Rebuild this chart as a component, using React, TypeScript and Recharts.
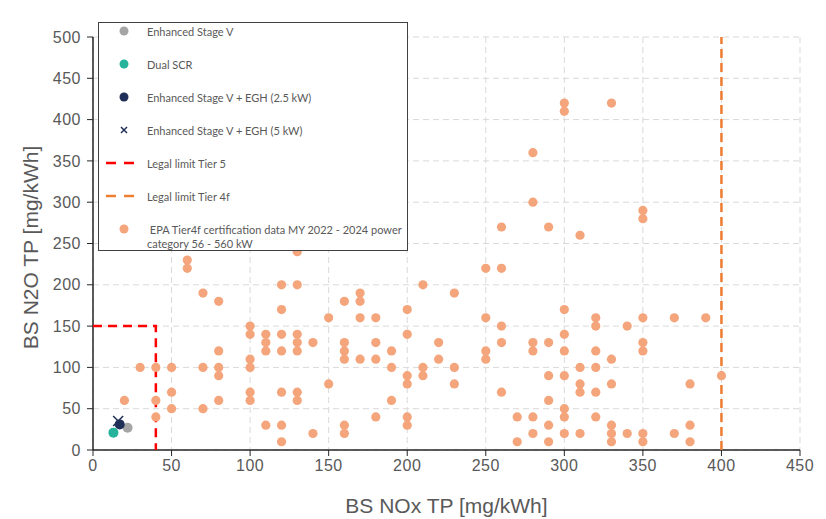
import React from 'react';
import { ScatterChart, Scatter, XAxis, YAxis, CartesianGrid, Label } from 'recharts';

// ticks
const xTicks = [0, 50, 100, 150, 200, 250, 300, 350, 400, 450];
const yTicks = [0, 50, 100, 150, 200, 250, 300, 350, 400, 450, 500];

// measured engines
const enhancedStageV = [{ x: 22, y: 27 }];
const dualScr = [{ x: 13, y: 21 }];
const enhancedEgh25 = [{ x: 17, y: 31 }];
const enhancedEgh5 = [{ x: 16, y: 35 }];

// legal limits
const tier5Limit = [
  { x: 0, y: 150 },
  { x: 40, y: 150 },
  { x: 40, y: 0 },
];
const tier4fLimit = [
  { x: 400, y: 0 },
  { x: 400, y: 500 },
];

// EPA Tier4f certification data [NOx, N2O]
const epaPoints: [number, number][] = [
  [20, 60], [30, 100], [40, 100], [40, 60], [40, 40],
  [50, 100], [50, 70], [50, 50],
  [60, 230], [60, 220],
  [70, 190], [70, 100], [70, 50],
  [80, 180], [80, 120], [80, 100], [80, 90], [80, 60],
  [100, 150], [100, 140], [100, 110], [100, 100], [100, 70], [100, 60],
  [110, 140], [110, 130], [110, 120], [110, 30],
  [120, 200], [120, 170], [120, 140], [120, 120], [120, 70], [120, 30], [120, 10],
  [130, 240], [130, 200], [130, 140], [130, 130], [130, 120], [130, 70], [130, 60],
  [140, 130], [140, 20],
  [150, 160], [150, 80],
  [160, 180], [160, 130], [160, 120], [160, 110], [160, 30], [160, 20],
  [170, 190], [170, 180], [170, 160], [170, 110],
  [180, 160], [180, 130], [180, 110], [180, 40],
  [190, 120], [190, 100], [190, 60],
  [200, 170], [200, 140], [200, 90], [200, 80], [200, 40], [200, 30],
  [210, 200], [210, 100], [210, 90],
  [220, 130], [220, 110],
  [230, 190], [230, 100], [230, 80],
  [250, 220], [250, 160], [250, 120], [250, 110],
  [260, 270], [260, 220], [260, 150], [260, 130], [260, 70],
  [270, 40], [270, 10],
  [280, 360], [280, 300], [280, 130], [280, 120], [280, 40], [280, 20],
  [290, 270], [290, 130], [290, 90], [290, 60], [290, 30], [290, 10],
  [300, 420], [300, 410], [300, 170], [300, 140], [300, 120], [300, 90], [300, 50], [300, 40], [300, 20],
  [310, 260], [310, 100], [310, 80], [310, 70], [310, 20],
  [320, 160], [320, 150], [320, 120], [320, 100], [320, 70], [320, 40],
  [330, 420], [330, 110], [330, 80], [330, 30], [330, 20], [330, 10],
  [340, 150], [340, 20],
  [350, 290], [350, 280], [350, 160], [350, 130], [350, 120], [350, 20], [350, 10],
  [370, 160], [370, 20],
  [380, 80], [380, 30], [380, 10],
  [390, 160],
  [400, 90],
];
const epaData = epaPoints.map(([x, y]) => ({ x, y }));

const legendItems = [
  { name: 'Enhanced Stage V', kind: 'dot', color: '#a5a5a5' },
  { name: 'Dual SCR', kind: 'dot', color: '#26b39c' },
  { name: 'Enhanced Stage V + EGH (2.5 kW)', kind: 'dot', color: '#1f2f57' },
  { name: 'Enhanced Stage V + EGH (5 kW)', kind: 'cross', color: '#1f2f57' },
  { name: 'Legal limit Tier 5', kind: 'dash', color: '#ff0000' },
  { name: 'Legal limit Tier 4f', kind: 'dash', color: '#ed7d31' },
  { name: ' EPA Tier4f certification data MY 2022 - 2024 power category 56 - 560 kW', kind: 'dot', color: '#f4a57c' },
];

const dotShape = (color: string, r: number) => (props: any) =>
  <circle cx={props.cx} cy={props.cy} r={r} fill={color} />;

const crossShape = (color: string) => (props: any) => {
  const { cx, cy } = props;
  return (
    <g stroke={color} strokeWidth={1.5}>
      <line x1={cx - 5} y1={cy - 5} x2={cx + 5} y2={cy + 5} />
      <line x1={cx - 5} y1={cy + 5} x2={cx + 5} y2={cy - 5} />
    </g>
  );
};

const noShape = () => <g />;

const LegendIcon = ({ kind, color }: { kind: string; color: string }) => (
  <svg width={34} height={12} style={{ flex: 'none' }}>
    {kind === 'dot' && <circle cx={19} cy={6} r={4.5} fill={color} />}
    {kind === 'cross' && (
      <g stroke={color} strokeWidth={1.5}>
        <line x1={16} y1={3} x2={22} y2={9} />
        <line x1={16} y1={9} x2={22} y2={3} />
      </g>
    )}
    {kind === 'dash' && (
      <line x1={1} y1={6} x2={31} y2={6} stroke={color} strokeWidth={2.5} strokeDasharray="10 8" />
    )}
  </svg>
);

const tickStyle = { fill: '#595959', fontSize: 16, letterSpacing: 0.5 };

export default function App() {
  return (
    <div style={{ position: 'absolute', left: 0, top: 0, width: 826, height: 519, background: '#fff', fontFamily: '"Liberation Sans", Arial, sans-serif' }}>
      <ScatterChart width={826} height={519} margin={{ top: 37, right: 26, bottom: 0, left: 0 }}>
        <CartesianGrid stroke="#d9d9d9" strokeDasharray="6 4" />
        <XAxis
          type="number"
          dataKey="x"
          domain={[0, 450]}
          ticks={xTicks}
          height={69}
          tick={tickStyle}
          tickSize={6}
          tickMargin={4}
          tickLine={{ stroke: '#262626' }}
          axisLine={{ stroke: '#262626', strokeWidth: 1.5 }}
          allowDataOverflow
        >
          <Label value="BS NOx TP [mg/kWh]" position="insideBottom" offset={6} style={{ fill: '#595959', fontSize: 21 }} />
        </XAxis>
        <YAxis
          type="number"
          dataKey="y"
          domain={[0, 500]}
          ticks={yTicks}
          width={93}
          tick={tickStyle}
          tickSize={6}
          tickMargin={6}
          tickLine={{ stroke: '#262626' }}
          axisLine={{ stroke: '#262626', strokeWidth: 1.5 }}
          allowDataOverflow
        >
          <Label
            content={({ viewBox }: any) => {
              const cx = 30;
              const cy = viewBox.y + viewBox.height / 2 + 4;
              return (
                <text x={cx} y={cy} transform={`rotate(-90 ${cx} ${cy})`} textAnchor="middle" dominantBaseline="central" fill="#595959" fontSize={21}>
                  BS N2O TP [mg/kWh]
                </text>
              );
            }}
          />
        </YAxis>
        <Scatter data={tier5Limit} line={{ stroke: '#ff0000', strokeWidth: 2.5, strokeDasharray: '9 6' }} shape={noShape} isAnimationActive={false} />
        <Scatter data={tier4fLimit} line={{ stroke: '#ed7d31', strokeWidth: 2.5, strokeDasharray: '9 5' }} shape={noShape} isAnimationActive={false} />
        <Scatter data={epaData} shape={dotShape('#f4a57c', 4.6)} isAnimationActive={false} />
        <Scatter data={enhancedStageV} shape={dotShape('#a5a5a5', 5)} isAnimationActive={false} />
        <Scatter data={dualScr} shape={dotShape('#26b39c', 5)} isAnimationActive={false} />
        <Scatter data={enhancedEgh5} shape={crossShape('#1f2f57')} isAnimationActive={false} />
        <Scatter data={enhancedEgh25} shape={dotShape('#1f2f57', 5)} isAnimationActive={false} />
      </ScatterChart>
      <div
        style={{
          position: 'absolute', left: 98, top: 22, width: 310, height: 229,
          border: '1.5px solid #404040', background: '#fff', boxSizing: 'border-box',
          fontFamily: 'Lato, sans-serif', fontSize: 11, color: '#595959',
        }}
      >
        {legendItems.map((item, i) => (
          <div key={item.name} style={{ position: 'absolute', left: 6, top: 2 + i * 33, display: 'flex', alignItems: 'flex-start' }}>
            <LegendIcon kind={item.kind} color={item.color} />
            <span style={{ marginLeft: 8, lineHeight: '14px', whiteSpace: 'pre-wrap', width: 262 }}>{item.name}</span>
          </div>
        ))}
      </div>
    </div>
  );
}
